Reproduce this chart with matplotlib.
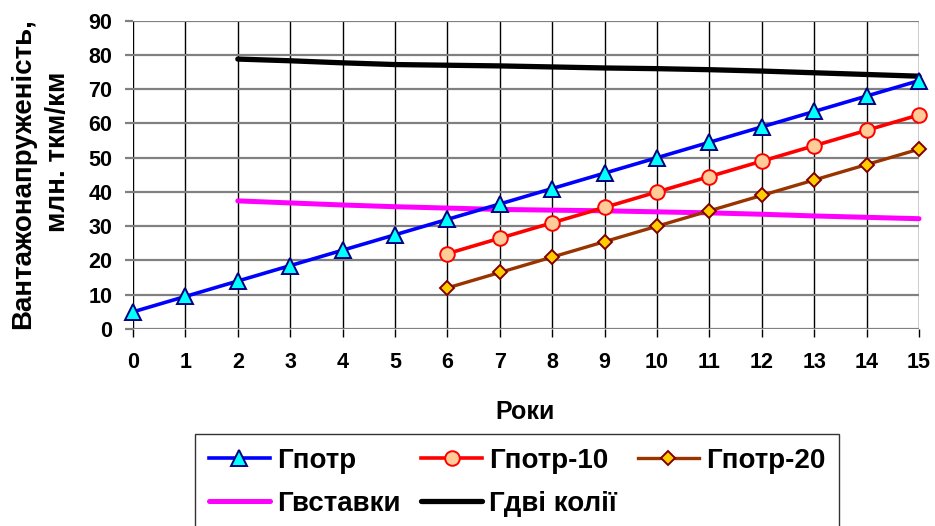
import matplotlib
matplotlib.use("Agg")
import matplotlib.pyplot as plt

plt.rcParams['font.family'] = ['Liberation Sans', 'DejaVu Sans']
plt.rcParams['font.weight'] = 'bold'

years = list(range(0, 16))
years_ext = list(range(2, 16))
years_tail = list(range(6, 16))

g_potr = [5, 9.5, 14, 18.5, 23, 27.5, 32, 36.5, 41, 45.5, 50, 54.5, 59, 63.5, 68, 72.5]
g_potr10 = [22, 26.5, 31, 35.5, 40, 44.5, 49, 53.5, 58, 62.5]
g_potr20 = [12, 16.5, 21, 25.5, 30, 34.5, 39, 43.5, 48, 52.5]
g_vstavky = [37.4, 36.8, 36.2, 35.7, 35.3, 34.9, 34.7, 34.5, 34.2, 33.9, 33.5, 33.0, 32.6, 32.2]
g_dvi = [78.8, 78.3, 77.7, 77.2, 77.0, 76.8, 76.5, 76.2, 76.0, 75.7, 75.3, 74.8, 74.3, 73.8]

y_ticks = list(range(0, 91, 10))

W, H = 935, 526
fig = plt.figure(figsize=(W / 100, H / 100), dpi=100)
ax = fig.add_axes([133 / W, 1 - 329 / H, 786 / W, 308.3 / H])

h_potr, = ax.plot(years, g_potr, color='#0000FF', lw=2.6, marker='^', ms=12,
                  mfc='#00FFFF', mec='#000080', mew=1.4, label='Гпотр',
                  zorder=5, clip_on=False)
h_p10, = ax.plot(years_tail, g_potr10, color='#FF0000', lw=2.6, marker='o', ms=10.5,
                 mfc='#FFCC99', mec='#FF0000', mew=1.4, label='Гпотр-10',
                 zorder=5, clip_on=False)
h_p20, = ax.plot(years_tail, g_potr20, color='#993300', lw=2.4, marker='D', ms=7.5,
                 mfc='#FFCC00', mec='#800000', mew=1.4, label='Гпотр-20',
                 zorder=5, clip_on=False)
h_vst, = ax.plot(years_ext, g_vstavky, color='#FF00FF', lw=3.6, label='Гвставки',
                 solid_capstyle='round', zorder=4, clip_on=False)
h_dvi, = ax.plot(years_ext, g_dvi, color='#000000', lw=3.8, label='Гдві колії',
                 solid_capstyle='round', zorder=4, clip_on=False)

ax.set_xlim(0, 15)
ax.set_ylim(0, 90)
ax.set_xticks(years)
ax.set_yticks(y_ticks)
for s in ax.spines.values():
    s.set_visible(False)

ax.yaxis.grid(True, color='#808080', lw=1.6, zorder=1)
ax.xaxis.grid(True, color='#000000', lw=1.0, zorder=1)
ax.set_axisbelow(True)

ax.tick_params(axis='y', length=5.8, width=1.6, color='#808080', pad=9, labelsize=15.5)
ax.tick_params(axis='x', length=5.8, width=1.0, color='#000000', pad=11, labelsize=15.5)
for lab in ax.get_xticklabels() + ax.get_yticklabels():
    lab.set_fontweight('bold')

# two-line vertical axis title
fig.text(30 / W, 1 - 174 / H, 'Вантажонапруженість,', rotation=90,
         rotation_mode='anchor', ha='center', va='baseline',
         fontsize=20, fontweight='bold')
fig.text(65 / W, 1 - 152 / H, 'млн. ткм/км', rotation=90,
         rotation_mode='anchor', ha='center', va='baseline',
         fontsize=20, fontweight='bold')

fig.text(525 / W, 1 - 412 / H, 'Роки', ha='center', va='center',
         fontsize=18, fontweight='bold')

handles = [h_potr, h_vst, h_p10, h_dvi, h_p20]
leg = fig.legend(handles=handles, labels=[h.get_label() for h in handles],
                 ncol=3, loc='upper left', bbox_to_anchor=(195 / W, 1 - 434 / H),
                 borderaxespad=0, frameon=True, fancybox=False, edgecolor='#000000',
                 prop={'family': 'Liberation Sans', 'weight': 'bold', 'size': 20},
                 handlelength=2.2, handletextpad=0.25, columnspacing=0.75,
                 borderpad=0.5, labelspacing=0.6)
leg.get_frame().set_linewidth(1.0)

fig.savefig('out.png', dpi=100)
